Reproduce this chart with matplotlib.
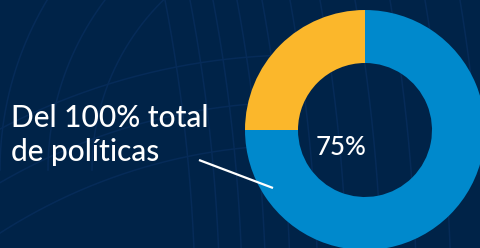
import numpy as np
import matplotlib
matplotlib.use("Agg")
import matplotlib.pyplot as plt

# data
labels = ["Del 100% total de políticas", "Resto"]
values = [75, 25]
colors = ["#0089cc", "#fbb72b"]
center_label = "75%"

W, H = 481, 248
bg = "#002348"
line_col = "#062b58"

fig = plt.figure(figsize=(W / 100, H / 100), dpi=100, facecolor=bg)
ax = fig.add_axes([0, 0, 1, 1])
ax.set_facecolor(bg)


def px(x, y):
    # pixel coords (y down) -> data coords (y up)
    return np.asarray(x), H - np.asarray(y)


# faint contour-like background lines (only upper-left parts of arcs)
t = np.linspace(np.pi, 1.5 * np.pi, 300)
for r in [238, 282, 330]:
    xx, yy = 330 + r * np.cos(t), 170 + r * np.sin(t)
    keep = xx < 200
    x, y = px(xx[keep], yy[keep])
    ax.plot(x, y, color=line_col, lw=1.1, zorder=0)
for r in [555, 598, 645]:
    xx, yy = 300 + r * np.cos(t), 700 + r * np.sin(t)
    keep = xx < 290
    x, y = px(xx[keep], yy[keep])
    ax.plot(x, y, color=line_col, lw=1.1, zorder=0)
cx, cy = -1500, 320
yy = np.linspace(-10, 260, 200)
for x0 in [165, 190, 213, 237, 262, 290, 320, 355, 390, 425, 460]:
    r = np.hypot(x0 - cx, 0 - cy)
    xx = cx + np.sqrt(r ** 2 - (yy - cy) ** 2)
    x, y = px(xx, yy)
    ax.plot(x, y, color=line_col, lw=1.1, zorder=0)

# donut
ctr = px(365, 130)
ax.pie(values, colors=colors, startangle=90, counterclock=False,
       center=(float(ctr[0]), float(ctr[1])), radius=120,
       wedgeprops=dict(width=53, edgecolor="none", linewidth=0))
for w in ax.patches:
    w.set_zorder(2)

# inner label
lx, ly = px(341, 155)
ax.text(lx, ly, center_label, color="white", fontsize=18.5, family="Lato",
        fontweight="medium", ha="center", va="baseline", zorder=3)

# side label + pointer
tx, ty = px(11, 127)
ax.text(tx, ty, "Del 100% total", color="white", fontsize=21.5, family="Lato",
        fontweight="medium", ha="left", va="baseline", zorder=3)
tx, ty = px(11, 161)
ax.text(tx, ty, "de políticas", color="white", fontsize=21.5, family="Lato",
        fontweight="medium", ha="left", va="baseline", zorder=3)
x, y = px([199, 273], [160, 188])
ax.plot(x, y, color="white", lw=1.6, zorder=3, solid_capstyle="butt")

ax.set_xlim(0, W)
ax.set_ylim(0, H)
ax.set_aspect("auto")
ax.axis("off")

fig.savefig("out.png", dpi=100, facecolor=bg)
